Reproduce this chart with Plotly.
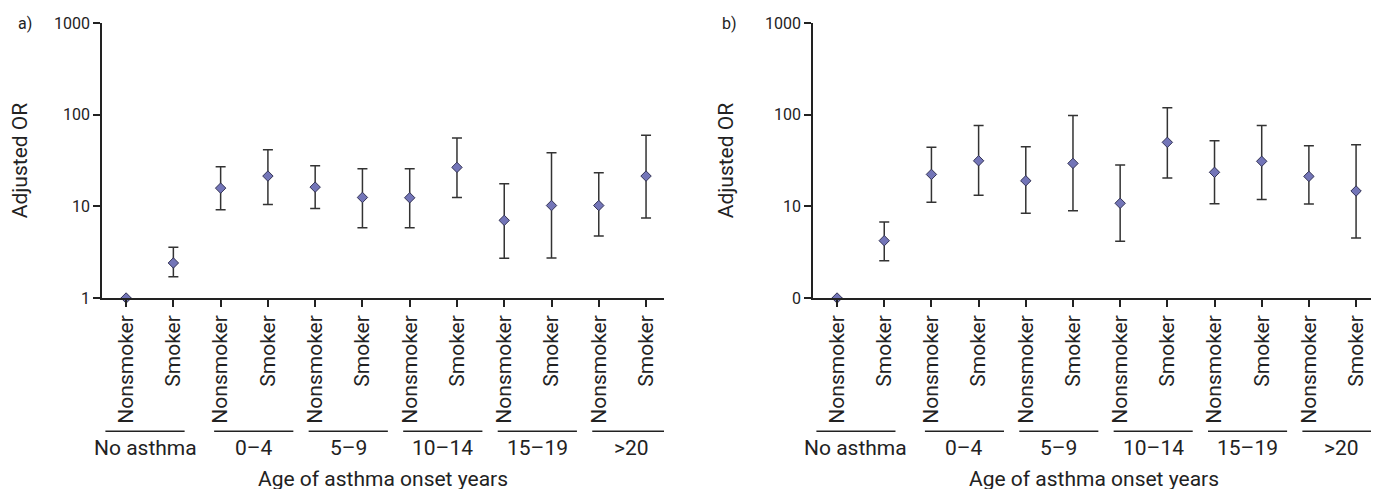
import plotly.graph_objects as go

# ---- data ----
groups = ["No asthma", "0\u20134", "5\u20139", "10\u201314", "15\u201319", ">20"]
status = ["Nonsmoker", "Smoker"]
tick_labels = [s for g in groups for s in status]

left_or = [1.0, 2.41, 15.8, 21.4, 16.2, 12.5, 12.4, 26.6, 7.03, 10.2, 10.2, 21.4]
left_lo = [None, 1.71, 9.18, 10.5, 9.5, 5.84, 5.84, 12.5, 2.71, 2.73, 4.74, 7.45]
left_hi = [None, 3.57, 27.0, 41.4, 27.7, 25.7, 25.7, 55.6, 17.6, 38.4, 23.2, 59.5]

right_or = [1.0, 4.22, 22.3, 31.4, 19.0, 29.4, 10.8, 49.9, 23.5, 31.0, 21.2, 14.7]
right_lo = [None, 2.55, 11.1, 13.2, 8.38, 8.96, 4.15, 20.4, 10.7, 11.9, 10.6, 4.51]
right_hi = [None, 6.74, 44.0, 76.4, 44.7, 98.2, 28.2, 119.0, 51.9, 76.4, 45.8, 46.9]

y_tickvals = [1, 10, 100, 1000]
left_ticktext = ["1", "10", "100", "1000"]
right_ticktext = ["0", "10", "100", "1000"]

panel_labels = ["a)", "b)"]
y_title = "Adjusted OR"
x_title = "Age of asthma onset years"

# ---- style ----
FONT = "Roboto"
TXT = "#222222"
MARK = "#7375b8"
xpos = list(range(len(tick_labels)))

fig = go.Figure()


def add_panel(orv, lo, hi, xa, ya):
    plus = [None if h is None else h - v for v, h in zip(orv, hi)]
    minus = [None if l is None else v - l for v, l in zip(orv, lo)]
    fig.add_trace(go.Scatter(
        x=xpos, y=orv, mode="markers", xaxis=xa, yaxis=ya,
        marker=dict(symbol="diamond", size=8, color=MARK,
                    line=dict(color="#333355", width=1)),
        error_y=dict(type="data", symmetric=False, array=plus, arrayminus=minus,
                     color="#333333", thickness=1.5, width=5),
        cliponaxis=False, showlegend=False))


add_panel(left_or, left_lo, left_hi, "x", "y")
add_panel(right_or, right_lo, right_hi, "x2", "y2")

W, H = 1379, 489
L, R, T, B = 94, 13, 15, 199
plot_w = W - L - R
plot_h = H - T - B


def px_to_paper_x(px):
    return (px - L) / plot_w


def px_to_paper_y(py):
    return (H - B - py) / plot_h


dom1 = [0, px_to_paper_x(656)]
dom2 = [px_to_paper_x(805), 1]
xrange_ = [-0.51, 11.38]

xcommon = dict(range=xrange_, tickvals=xpos, ticktext=tick_labels, tickangle=-90,
               showline=True, linecolor=TXT, linewidth=1.5, ticks="outside",
               ticklen=7, tickwidth=1.5, tickcolor=TXT, showgrid=False, zeroline=False,
               automargin=False,
               tickfont=dict(family=FONT, size=21, color=TXT))
ycommon = dict(type="log", range=[0, 3], tickvals=y_tickvals,
               showline=True, linecolor=TXT, linewidth=1.5, ticks="outside",
               ticklen=7, tickwidth=1.5, tickcolor=TXT, showgrid=False, zeroline=False,
               automargin=False,
               tickfont=dict(family=FONT, size=16, color=TXT),
               title=dict(text=y_title, font=dict(family=FONT, size=21, color=TXT), standoff=26))

fig.update_layout(
    width=W, height=H,
    margin=dict(l=L, r=R, t=T, b=B),
    paper_bgcolor="white", plot_bgcolor="white",
    font=dict(family=FONT, color=TXT),
    xaxis=dict(domain=dom1, anchor="y", **xcommon),
    xaxis2=dict(domain=dom2, anchor="y2", **xcommon),
    yaxis=dict(domain=[0, 1], anchor="x", ticktext=left_ticktext, **ycommon),
    yaxis2=dict(domain=[0, 1], anchor="x2", ticktext=right_ticktext, **ycommon),
)

shapes = []
annotations = []
line_y = px_to_paper_y(423.3)
label_y = px_to_paper_y(440)
title_y = px_to_paper_y(471)
half = 0.838
for xa, dom in (("x", dom1), ("x2", dom2)):
    for g, name in enumerate(groups):
        c = 2 * g + 0.5 + (-0.1 if g == 0 else 0.2)
        shapes.append(dict(type="line", xref=xa, yref="paper", x0=c - half, x1=c + half,
                           y0=line_y, y1=line_y, line=dict(color=TXT, width=1.5)))
        annotations.append(dict(xref=xa, yref="paper", x=c, y=label_y, text=name,
                                showarrow=False, xanchor="center", yanchor="middle",
                                font=dict(family=FONT, size=21, color=TXT)))
    annotations.append(dict(xref="paper", yref="paper", x=(dom[0] + dom[1]) / 2, y=title_y,
                            text=x_title, showarrow=False, xanchor="center", yanchor="middle",
                            borderpad=0,
                            font=dict(family=FONT, size=21, color=TXT)))

for lab, lab_px in zip(panel_labels, (8, 712)):
    annotations.append(dict(xref="paper", yref="paper", x=px_to_paper_x(lab_px),
                            y=1.0, text=lab, showarrow=False, xanchor="left",
                            yanchor="middle", font=dict(family=FONT, size=16, color=TXT)))

fig.update_layout(shapes=shapes, annotations=annotations)
fig.write_html("out.html")
